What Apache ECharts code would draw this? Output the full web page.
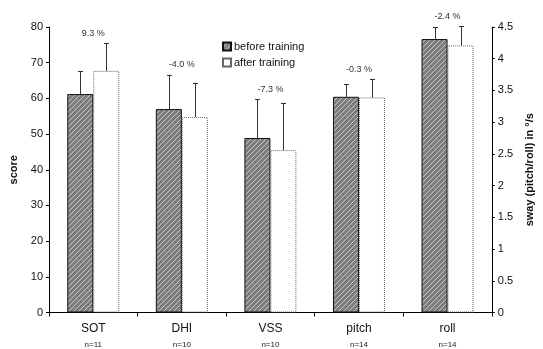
<!DOCTYPE html>
<html><head><meta charset="utf-8">
<script src="https://cdn.jsdelivr.net/npm/echarts@6/dist/echarts.min.js"></script>
<style>html,body{margin:0;padding:0;background:#fff}#c{width:543px;height:349px}</style>
</head><body><div id="c"></div>
<script>
var categories = ['SOT', 'DHI', 'VSS', 'pitch', 'roll'];
var nLabels = ['n=11', 'n=10', 'n=10', 'n=14', 'n=14'];
var beforeMean = [61.2, 57.0, 48.9, 3.40, 4.31];
var beforeSD = [6.5, 9.6, 10.9, 0.20, 0.19];
var afterMean = [67.7, 54.8, 45.5, 3.39, 4.21];
var afterSD = [7.7, 9.6, 13.2, 0.29, 0.30];
var changeLabels = ['9.3 %', '-4.0 %', '-7.3 %', '-0.3 %', '-2.4 %'];
var rightAxisFrom = 3; // categories from this index use the right (sway) axis
var leftTicks = {min: 0, max: 80, interval: 10};
var rightTicks = {min: 0, max: 4.5, interval: 0.5};

var FONT = 'Liberation Sans, Arial, sans-serif';
var BAR_W = 26;

// hatched pattern
var pc = document.createElement('canvas');
pc.width = 5; pc.height = 5;
var g = pc.getContext('2d');
g.fillStyle = '#7d7d7d'; g.fillRect(0, 0, 5, 5);
g.strokeStyle = '#c4c4c4'; g.lineWidth = 1;
g.beginPath(); g.moveTo(0, 5); g.lineTo(5, 0); g.stroke();
g.beginPath(); g.moveTo(-1, 1); g.lineTo(1, -1); g.stroke();
g.beginPath(); g.moveTo(4, 6); g.lineTo(6, 4); g.stroke();
var hatch = {image: pc, repeat: 'repeat'};

function pick(arr, right) {
  return arr.map(function (v, i) { return (i >= rightAxisFrom) === right ? v : '-'; });
}
function errData(right) {
  var out = [];
  for (var i = 0; i < categories.length; i++) {
    if ((i >= rightAxisFrom) !== right) continue;
    out.push([i, beforeMean[i], beforeMean[i] + beforeSD[i], afterMean[i], afterMean[i] + afterSD[i], changeLabels[i]]);
  }
  return out;
}
function renderErr(params, api) {
  var x = api.value(0);
  var c = api.coord([x, 0])[0];
  var half = BAR_W / 2;
  var children = [];
  var tops = [];
  [[1, 2, -half], [3, 4, half]].forEach(function (d) {
    var p0 = api.coord([x, api.value(d[0])]);
    var p1 = api.coord([x, api.value(d[1])]);
    var cx = Math.round(c + d[2]) + 0.5;
    tops.push(p1[1]);
    children.push({type: 'line', shape: {x1: cx, y1: p0[1], x2: cx, y2: p1[1]}, style: {stroke: '#333', lineWidth: 1}});
    children.push({type: 'line', shape: {x1: cx - 2.5, y1: Math.round(p1[1]) + 0.5, x2: cx + 2.5, y2: Math.round(p1[1]) + 0.5}, style: {stroke: '#333', lineWidth: 1}});
  });
  var lbl = changeLabels[x];
  children.push({type: 'text', style: {text: lbl, x: c, y: Math.min(tops[0], tops[1]) - 10, align: 'center', verticalAlign: 'middle', fontSize: 9, fontFamily: FONT, fill: '#333'}});
  return {type: 'group', children: children};
}

var catAxisBase = {
  type: 'category',
  data: categories,
  axisLine: {lineStyle: {color: '#000', width: 1}},
  axisTick: {show: true, length: 4, lineStyle: {color: '#000'}},
  splitLine: {show: false}
};

var option = {
  animation: false,
  backgroundColor: '#fff',
  grid: {left: 49, right: 40, top: 27, bottom: 36, containLabel: false},
  legend: {
    orient: 'vertical', left: 217, top: 36, itemWidth: 8, itemHeight: 8, itemGap: 5,
    icon: 'rect',
    data: ['before training', 'after training'],
    textStyle: {fontSize: 11, fontFamily: FONT, color: '#111', padding: [0, 0, 0, -2]}
  },
  xAxis: [
    Object.assign({}, catAxisBase, {
      position: 'bottom',
      axisLabel: {
        margin: 8,
        formatter: function (v, i) { return '{a|' + v + '}\n{b|' + nLabels[i] + '}'; },
        rich: {
          a: {fontSize: 12, fontFamily: FONT, color: '#111', lineHeight: 16},
          b: {fontSize: 8, fontFamily: FONT, color: '#222', lineHeight: 17}
        }
      }
    }),
    Object.assign({}, catAxisBase, {show: false, position: 'bottom'})
  ],
  yAxis: [
    {
      type: 'value', min: leftTicks.min, max: leftTicks.max, interval: leftTicks.interval,
      name: 'score', nameLocation: 'middle', nameGap: 25, nameRotate: 90,
      nameTextStyle: {fontSize: 11, fontWeight: 'bold', fontFamily: FONT, color: '#111'},
      axisLine: {show: true, lineStyle: {color: '#000'}},
      axisTick: {show: true, length: 3, lineStyle: {color: '#000'}},
      axisLabel: {fontSize: 11, fontFamily: FONT, color: '#111', margin: 6},
      splitLine: {show: false}
    },
    {
      type: 'value', min: rightTicks.min, max: rightTicks.max, interval: rightTicks.interval,
      position: 'right',
      name: 'sway (pitch/roll) in °/s', nameLocation: 'middle', nameGap: 27, nameRotate: 90,
      nameTextStyle: {fontSize: 11, fontWeight: 'bold', fontFamily: FONT, color: '#111'},
      axisLine: {show: true, lineStyle: {color: '#000'}},
      axisTick: {show: true, length: 3, lineStyle: {color: '#000'}},
      axisLabel: {fontSize: 11, fontFamily: FONT, color: '#111', margin: 6},
      splitLine: {show: false}
    }
  ],
  series: [
    {name: 'before training', type: 'bar', xAxisIndex: 0, yAxisIndex: 0, barWidth: BAR_W, barGap: '0%',
     data: pick(beforeMean, false), itemStyle: {color: hatch, borderColor: '#111', borderWidth: 1}},
    {name: 'after training', type: 'bar', xAxisIndex: 0, yAxisIndex: 0, barWidth: BAR_W, barGap: '0%',
     data: pick(afterMean, false), itemStyle: {color: '#fff', borderColor: '#666', borderWidth: 1, borderType: 'dotted'}},
    {name: 'before training', type: 'bar', xAxisIndex: 1, yAxisIndex: 1, barWidth: BAR_W, barGap: '0%',
     data: pick(beforeMean, true), itemStyle: {color: hatch, borderColor: '#111', borderWidth: 1}},
    {name: 'after training', type: 'bar', xAxisIndex: 1, yAxisIndex: 1, barWidth: BAR_W, barGap: '0%',
     data: pick(afterMean, true), itemStyle: {color: '#fff', borderColor: '#666', borderWidth: 1, borderType: 'dotted'}},
    {type: 'custom', xAxisIndex: 0, yAxisIndex: 0, renderItem: renderErr, data: errData(false), z: 5},
    {type: 'custom', xAxisIndex: 1, yAxisIndex: 1, renderItem: renderErr, data: errData(true), z: 5}
  ]
};
var chart = echarts.init(document.getElementById('c'), null, {renderer: 'canvas'});
chart.setOption(option);
</script></body></html>
